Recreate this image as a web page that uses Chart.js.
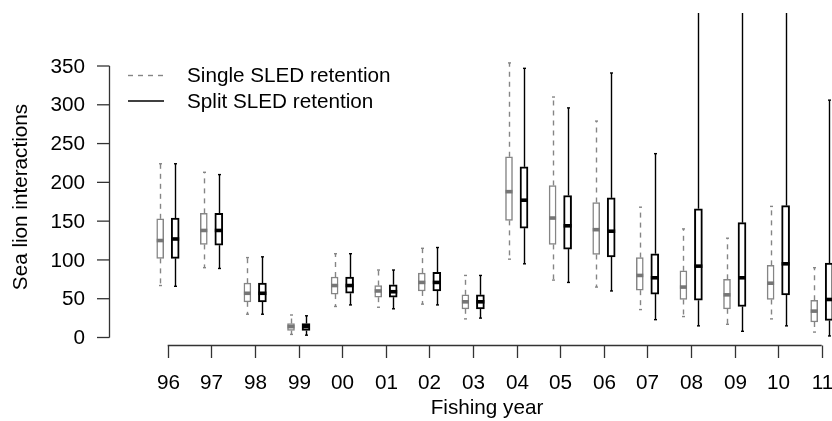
<!DOCTYPE html>
<html>
<head>
<meta charset="utf-8">
<script src="https://cdn.jsdelivr.net/npm/chart.js@4/dist/chart.umd.min.js"></script>
<style>
  html, body { margin: 0; padding: 0; background: #fff; }
  #wrap { width: 832px; height: 421px; }
</style>
</head>
<body>
<div id="wrap"><canvas id="boxChart" width="832" height="421"></canvas></div>
<script>
// fishing years (x categories)
const years = ['96', '97', '98', '99', '00', '01', '02', '03', '04', '05', '06', '07', '08', '09', '10', '11'];
const yTicks = [0, 50, 100, 150, 200, 250, 300, 350];
const seriesNames = ['Single SLED retention', 'Split SLED retention'];

// Single SLED retention: whisker low, lower quartile, median, upper quartile, whisker high
const singleMin = [67, 90, 30, 4, 40, 39, 43, 24, 101, 74, 65, 36, 27, 17, 24, 7];
const singleQ1  = [102, 120, 46, 9, 56, 52, 60, 37, 151, 120, 107, 61, 49, 37, 49, 20];
const singleMed = [125, 138, 57, 14, 67, 60, 71, 46, 188, 154, 139, 80, 65, 55, 70, 34];
const singleQ3  = [153, 160, 70, 18, 78, 67, 83, 55, 233, 196, 174, 103, 86, 75, 93, 48];
const singleMax = [224, 213, 103, 29, 108, 87, 115, 80, 354, 310, 279, 168, 140, 128, 169, 90];

// Split SLED retention
const splitMin = [66, 89, 30, 3, 42, 37, 42, 25, 95, 71, 60, 23, 15, 8, 15, 2];
const splitQ1  = [102, 119, 46, 9, 57, 52, 60, 37, 141, 114, 104, 56, 48, 40, 55, 22];
const splitMed = [127, 138, 57, 14, 67, 59, 71, 46, 177, 144, 137, 77, 92, 77, 95, 49];
const splitQ3  = [154, 160, 70, 18, 78, 68, 84, 55, 220, 183, 180, 108, 166, 148, 170, 96];
const splitMax = [224, 210, 104, 28, 108, 87, 116, 80, 347, 296, 341, 237, 450, 430, 460, 306];

const FONT = '20.7px "Liberation Sans", Arial, sans-serif';
const GREY = '#858585';
const OFF = 0.172;

const series = [
  { name: seriesNames[0], off: -OFF, min: singleMin, q1: singleQ1, med: singleMed, q3: singleQ3, max: singleMax,
    color: GREY, medColor: '#767676', dash: [5, 5], width: 7 },
  { name: seriesNames[1], off: OFF, min: splitMin, q1: splitQ1, med: splitMed, q3: splitQ3, max: splitMax,
    color: '#000', medColor: '#000', dash: [], width: 8 }
];

function clipArea(ctx, a) {
  ctx.beginPath();
  ctx.rect(a.left, a.top, a.right - a.left, a.bottom - a.top);
  ctx.clip();
}

const boxExtras = {
  id: 'boxExtras',
  beforeDatasetsDraw(chart) {
    const ctx = chart.ctx, xs = chart.scales.x, ys = chart.scales.y;
    ctx.save();
    clipArea(ctx, chart.chartArea);
    series.forEach(s => {
      ctx.strokeStyle = s.color;
      ctx.lineWidth = 1.4;
      years.forEach((yr, i) => {
        const x = Math.round(xs.getPixelForValue(i + s.off)) + 0.5;
        const ends = [[s.q3[i], s.max[i]], [s.q1[i], s.min[i]]];
        ends.forEach(([from, to]) => {
          ctx.setLineDash(s.dash);
          ctx.beginPath();
          ctx.moveTo(x, ys.getPixelForValue(from));
          ctx.lineTo(x, ys.getPixelForValue(to));
          ctx.stroke();
          ctx.setLineDash([]);
          ctx.beginPath();
          ctx.moveTo(x - 1.5, ys.getPixelForValue(to));
          ctx.lineTo(x + 1.5, ys.getPixelForValue(to));
          ctx.stroke();
        });
      });
    });
    ctx.restore();
  },
  afterDatasetsDraw(chart) {
    const ctx = chart.ctx, xs = chart.scales.x, ys = chart.scales.y;
    ctx.save();
    clipArea(ctx, chart.chartArea);
    series.forEach(s => {
      ctx.strokeStyle = s.medColor;
      ctx.lineWidth = 3.6;
      years.forEach((yr, i) => {
        const x = xs.getPixelForValue(i + s.off);
        const y = ys.getPixelForValue(s.med[i]);
        ctx.beginPath();
        ctx.moveTo(x - s.width / 2, y);
        ctx.lineTo(x + s.width / 2, y);
        ctx.stroke();
      });
    });
    ctx.restore();
  },
  afterDraw(chart) {
    const ctx = chart.ctx, xs = chart.scales.x, ys = chart.scales.y;
    ctx.save();
    ctx.strokeStyle = '#333';
    ctx.lineWidth = 1.3;
    ctx.fillStyle = '#000';
    ctx.font = FONT;

    // y axis
    const ax = 109.5;
    const yTop = ys.getPixelForValue(yTicks[yTicks.length - 1]);
    const yBot = ys.getPixelForValue(yTicks[0]);
    ctx.beginPath();
    ctx.moveTo(ax, yTop);
    ctx.lineTo(ax, yBot);
    ctx.stroke();
    ctx.textAlign = 'right';
    ctx.textBaseline = 'middle';
    yTicks.forEach(v => {
      const y = ys.getPixelForValue(v);
      ctx.beginPath();
      ctx.moveTo(ax, y);
      ctx.lineTo(ax - 12.5, y);
      ctx.stroke();
      ctx.fillText(String(v), 85, y + 1);
    });

    // x axis
    const ay = 345.5;
    const xFirst = xs.getPixelForValue(0);
    const xLast = xs.getPixelForValue(years.length - 1);
    ctx.beginPath();
    ctx.moveTo(xFirst, ay);
    ctx.lineTo(xLast, ay);
    ctx.stroke();
    ctx.textAlign = 'center';
    ctx.textBaseline = 'alphabetic';
    years.forEach((yr, i) => {
      const x = Math.round(xs.getPixelForValue(i)) + 0.5;
      ctx.beginPath();
      ctx.moveTo(x, ay);
      ctx.lineTo(x, ay + 12.5);
      ctx.stroke();
      ctx.fillText(yr, x, 389);
    });

    // axis titles
    ctx.fillText('Fishing year', 487, 414);
    ctx.save();
    ctx.translate(27, 197);
    ctx.rotate(-Math.PI / 2);
    ctx.fillText('Sea lion interactions', 0, 0);
    ctx.restore();

    // legend
    ctx.textAlign = 'left';
    series.forEach((s, k) => {
      const ly = 75.5 + k * 25.5;
      ctx.strokeStyle = s.color;
      ctx.lineWidth = 1.4;
      ctx.setLineDash(s.dash);
      ctx.beginPath();
      ctx.moveTo(128, ly);
      ctx.lineTo(164, ly);
      ctx.stroke();
      ctx.setLineDash([]);
      ctx.fillText(s.name, 187, 82 + k * 25.5);
    });
    ctx.restore();
  }
};

const ctx = document.getElementById('boxChart').getContext('2d');

// plot region: left 109, top 13, bottom 345; right runs off the picture
const pxPerYear = (821.7 - 167.7) / (years.length - 1);
const xMin = -(167.7 - 109) / pxPerYear;
const xMax = (years.length - 1) + (832 - 821.7) / pxPerYear;
const pxPerUnit = (337.5 - 66) / 350;
const yMin = -(345 - 337.5) / pxPerUnit;
const yMax = (337.5 - 13) / pxPerUnit;

new Chart(ctx, {
  type: 'bar',
  data: {
    datasets: series.map(s => ({
      label: s.name,
      data: years.map((yr, i) => ({ x: i + s.off, y: [s.q1[i], s.q3[i]] })),
      backgroundColor: '#fff',
      borderColor: s.color,
      borderWidth: s.color === GREY ? 1.5 : 2,
      borderSkipped: false,
      barThickness: s.width,
      grouped: false
    }))
  },
  options: {
    responsive: false,
    devicePixelRatio: 1,
    animation: false,
    layout: { padding: { left: 109, top: 13, right: 0, bottom: 76 } },
    plugins: { legend: { display: false }, tooltip: { enabled: false } },
    scales: {
      x: { type: 'linear', min: xMin, max: xMax, offset: false, display: false },
      y: { type: 'linear', min: yMin, max: yMax, display: false }
    }
  },
  plugins: [boxExtras]
});
</script>
</body>
</html>
